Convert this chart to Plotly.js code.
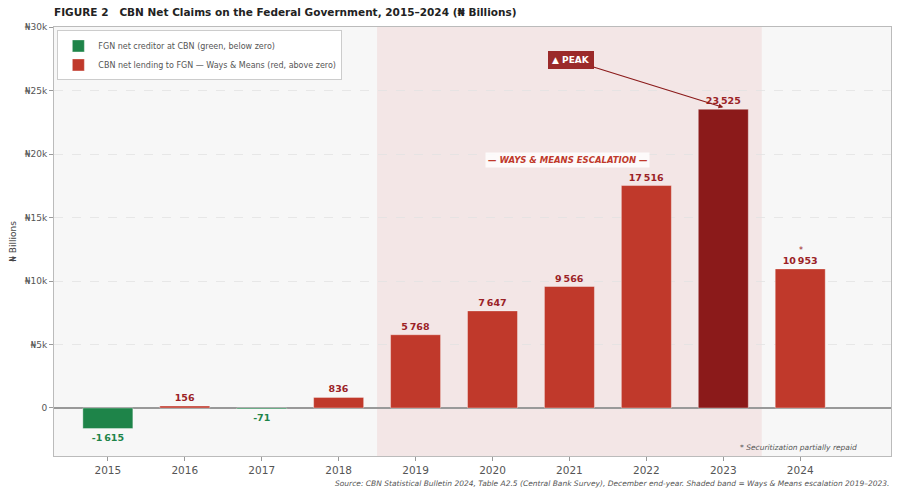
<!DOCTYPE html>
<html>
<head>
<meta charset="utf-8">
<script src="https://cdn.plot.ly/plotly-3.0.1.min.js"></script>
<style>
  html, body { margin: 0; padding: 0; background: #ffffff; }
  #chart { width: 900px; height: 495px; }
</style>
</head>
<body>
<div id="chart"></div>
<script>
// CBN net claims on FGN, N billions, December end-year
const years = ['2015', '2016', '2017', '2018', '2019', '2020', '2021', '2022', '2023', '2024'];
const netClaims = [-1615, 156, -71, 836, 5768, 7647, 9566, 17516, 23525, 10953];
const peakYear = '2023';

const yTickVals = [0, 5000, 10000, 15000, 20000, 25000, 30000];
const yTickText = ['0', '₦5k', '₦10k', '₦15k', '₦20k', '₦25k', '₦30k'];

const GREEN = '#1e8449';
const RED = '#c0392b';
const DARK_RED = '#8b1a1a';

// thin-space thousands separator, like "23 525"
function fmt(v) {
   const s = Math.abs(v).toString().replace(/\B(?=(\d{3})+(?!\d))/g, '\u2009');
   return (v < 0 ? '-' : '') + s;
}

// split into below-zero (green) and above-zero (red) series
const negVals = netClaims.map(v => v < 0 ? v : null);
const posVals = netClaims.map(v => v >= 0 ? v : null);
const posColors = years.map(y => y === peakYear ? DARK_RED : RED);

const traces = [
   {
      type: 'bar',
      name: 'FGN net creditor at CBN (green, below zero)',
      x: years,
      y: negVals,
      width: 0.65,
      marker: { color: GREEN, line: { color: 'rgba(255,255,255,0.6)', width: 0.6 } },
      text: negVals.map(v => v === null ? '' : fmt(v)),
      textposition: 'outside',
      textfont: { family: 'DejaVu Sans', size: 9.5, color: GREEN, weight: 'bold' },
      constraintext: 'none',
      cliponaxis: false,
      hoverinfo: 'x+y'
   },
   {
      type: 'bar',
      name: 'CBN net lending to FGN — Ways & Means (red, above zero)',
      x: years,
      y: posVals,
      width: 0.65,
      marker: { color: posColors, line: { color: 'rgba(255,255,255,0.6)', width: 0.6 } },
      text: posVals.map(v => v === null ? '' : fmt(v)),
      textposition: 'outside',
      textfont: { family: 'DejaVu Sans', size: 9.5, color: '#9b2226', weight: 'bold' },
      constraintext: 'none',
      cliponaxis: false,
      hoverinfo: 'x+y'
   }
];

const peakIdx = years.indexOf(peakYear);

const layout = {
   width: 900,
   height: 495,
   margin: { l: 54, r: 9, t: 27, b: 39 },
   paper_bgcolor: '#ffffff',
   plot_bgcolor: '#f7f7f7',
   font: { family: 'DejaVu Sans', size: 9, color: '#555' },
   barmode: 'relative',
   bargap: 0.35,
   title: {
      text: '<b>FIGURE 2   CBN Net Claims on the Federal Government, 2015–2024 (₦ Billions)</b>',
      font: { family: 'DejaVu Sans', size: 10.5, color: '#222' },
      x: 54 / 900, xanchor: 'left', xref: 'container',
      y: 1 - 12 / 495, yanchor: 'middle', yref: 'container'
   },
   showlegend: true,
   legend: {
      x: 0.004, y: 0.992, xanchor: 'left', yanchor: 'top',
      bgcolor: '#ffffff', bordercolor: '#cccccc', borderwidth: 1,
      font: { size: 8, color: '#555' },
      tracegroupgap: 0,
      itemwidth: 30
   },
   xaxis: {
      type: 'category',
      range: [-0.7, 10.18],
      showgrid: false,
      ticks: 'outside', ticklen: 4, tickcolor: '#999',
      tickfont: { size: 10.5, color: '#555' },
      showline: true, linecolor: '#bbb', linewidth: 1, mirror: true,
      fixedrange: true
   },
   yaxis: {
      range: [-3780, 30000],
      tickvals: yTickVals,
      ticktext: yTickText,
      ticks: 'outside', ticklen: 4, tickcolor: '#999',
      tickfont: { size: 9, color: '#555' },
      showgrid: true, gridcolor: '#e2e2e2', griddash: 'dash', gridwidth: 0.8,
      zeroline: true, zerolinecolor: '#999', zerolinewidth: 1.2,
      showline: true, linecolor: '#bbb', linewidth: 1, mirror: true,
      title: { text: '₦ Billions', font: { size: 9, color: '#444' }, standoff: 6 },
      fixedrange: true
   },
   shapes: [
      {
         type: 'rect', layer: 'below',
         xref: 'x', yref: 'paper',
         x0: 3.5, x1: 8.5, y0: 0, y1: 1,
         fillcolor: '#f3e6e6', line: { width: 0 }
      }
   ],
   annotations: [
      {
         x: peakIdx, y: netClaims[peakIdx] + 150, xref: 'x', yref: 'y',
         ax: peakIdx - 1.98, ay: 27400, axref: 'x', ayref: 'y',
         text: '<b>▲ PEAK</b>',
         font: { size: 9, color: '#ffffff' },
         bgcolor: '#9b2a2a', bordercolor: '#9b2a2a', borderpad: 3,
         showarrow: true, arrowhead: 2, arrowsize: 0.8, arrowwidth: 1.2, arrowcolor: DARK_RED
      },
      {
         x: 5.98, y: 19550, xref: 'x', yref: 'y',
         text: '<b><i>— WAYS & MEANS ESCALATION —</i></b>',
         font: { size: 8.5, color: RED },
         bgcolor: 'rgba(255,255,255,0.8)', borderpad: 2,
         showarrow: false
      },
      {
         x: 9, y: netClaims[9], xref: 'x', yref: 'y',
         yshift: 18, xshift: 1,
         text: '*',
         font: { size: 8, color: '#9b2226' },
         showarrow: false
      },
      {
         x: 0.962, y: 0.02, xref: 'paper', yref: 'paper',
         xanchor: 'right', yanchor: 'middle',
         text: '<i>* Securitization partially repaid</i>',
         font: { size: 7.5, color: '#555' },
         showarrow: false
      },
      {
         x: 1, y: -0.063, xref: 'paper', yref: 'paper',
         xanchor: 'right', yanchor: 'middle',
         text: '<i>Source: CBN Statistical Bulletin 2024, Table A2.5 (Central Bank Survey), December end-year. Shaded band = Ways & Means escalation 2019–2023.</i>',
         font: { size: 7.5, color: '#555' },
         showarrow: false
      }
   ]
};

Plotly.newPlot('chart', traces, layout, { displayModeBar: false, staticPlot: true });
</script>
</body>
</html>
